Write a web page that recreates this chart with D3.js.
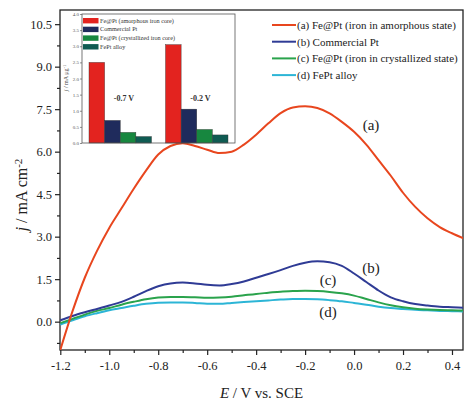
<!DOCTYPE html>
<html>
<head>
<meta charset="utf-8">
<script src="https://d3js.org/d3.v7.min.js"></script>
<style>
body { margin: 0; background: #fff; }
text { font-family: "Liberation Serif", serif; }
</style>
</head>
<body>
<script>
// canvas magic numbers
var w = 465;
var h = 406;
// main plot box
var left = 60, top_ = 10, right = 463, bottom = 350;
// inset box
var insLeft = 82, insTop = 14, insRight = 235, insBottom = 143;

// ---- data ----
var potential = [-1.20, -1.15, -1.10, -1.05, -1.00, -0.95, -0.90, -0.85, -0.80, -0.75,
                 -0.70, -0.65, -0.60, -0.55, -0.50, -0.45, -0.40, -0.35, -0.30, -0.25,
                 -0.20, -0.15, -0.10, -0.05, 0.00, 0.05, 0.10, 0.15, 0.20, 0.25,
                 0.30, 0.35, 0.40, 0.45];
var curveA = [-1.0, 0.37, 1.55, 2.5, 3.31, 4.0, 4.69, 5.33, 5.9, 6.2,
              6.3, 6.2, 6.07, 5.95, 6.0, 6.25, 6.6, 7.0, 7.36, 7.56,
              7.6, 7.54, 7.35, 7.05, 6.7, 6.25, 5.7, 5.15, 4.55, 4.05,
              3.65, 3.34, 3.12, 2.93];
var curveB = [0.05, 0.2, 0.33, 0.45, 0.57, 0.7, 0.88, 1.08, 1.25, 1.35,
              1.38, 1.35, 1.3, 1.28, 1.33, 1.42, 1.55, 1.68, 1.82, 1.97,
              2.08, 2.13, 2.1, 1.97, 1.7, 1.4, 1.1, 0.86, 0.72, 0.62,
              0.57, 0.53, 0.51, 0.49];
var curveC = [-0.05, 0.1, 0.25, 0.38, 0.48, 0.6, 0.7, 0.79, 0.85, 0.87,
              0.87, 0.86, 0.84, 0.85, 0.88, 0.93, 0.98, 1.02, 1.06, 1.08,
              1.09, 1.08, 1.05, 1.0, 0.92, 0.8, 0.68, 0.58, 0.51, 0.46,
              0.43, 0.41, 0.40, 0.39];
var curveD = [-0.1, 0.05, 0.19, 0.3, 0.4, 0.48, 0.56, 0.63, 0.67, 0.68,
              0.68, 0.66, 0.63, 0.63, 0.66, 0.69, 0.72, 0.75, 0.78, 0.8,
              0.8, 0.79, 0.76, 0.72, 0.66, 0.6, 0.53, 0.48, 0.45, 0.42,
              0.40, 0.38, 0.37, 0.36];
var seriesNames = ["(a) Fe@Pt (iron in amorphous state)", "(b) Commercial Pt",
                   "(c) Fe@Pt (iron in crystallized state)", "(d) FePt alloy"];
var seriesTags = ["(a)", "(b)", "(c)", "(d)"];
var xTicks = [-1.2, -1.0, -0.8, -0.6, -0.4, -0.2, 0.0, 0.2, 0.4];
var yTicks = [0.0, 1.5, 3.0, 4.5, 6.0, 7.5, 9.0, 10.5];

// inset bar data
var insetGroups = ["-0.7 V", "-0.2 V"];
var insetNames = ["Fe@Pt (amorphous iron core)", "Commercial Pt",
                  "Fe@Pt (crystallized iron core)", "FePt alloy"];
var insetAt07 = [2.5, 0.7, 0.33, 0.2];
var insetAt02 = [3.05, 1.05, 0.42, 0.25];
var insetTicks = [0.0, 0.5, 1.0, 1.5, 2.0, 2.5, 3.0, 3.5, 4.0];

var lineColors = ["#e8461e", "#2f3b95", "#2aa34c", "#2cb5d6"];
var barColors = ["#e3231f", "#1f2b5c", "#17873f", "#0f5b52"];

// hyphen instead of unicode minus, like the original
var fmt = function(d) { return d3.format(".1f")(d).replace("\u2212", "-"); };

var svg = d3.select("body")
            .append("svg")
            .attr("width", w)
            .attr("height", h);

// scales
var x = d3.scaleLinear().domain([-1.2, 0.445]).range([left + 0.3, right]);
var y = d3.scaleLinear().domain([-1, 11]).range([bottom, top_]);

// x axis
var xAxis = svg.append("g")
    .attr("transform", "translate(0," + bottom + ")")
    .call(d3.axisBottom(x).tickValues(xTicks).tickSize(5).tickFormat(fmt));
var xMinor = svg.append("g")
    .attr("transform", "translate(0," + bottom + ")")
    .call(d3.axisBottom(x).tickValues(d3.range(-1.1, 0.44, 0.2)).tickSize(3).tickFormat(""));

// y axis
var yAxis = svg.append("g")
    .attr("transform", "translate(" + left + ",0)")
    .call(d3.axisLeft(y).tickValues(yTicks).tickSize(5).tickFormat(fmt));
var yMinor = svg.append("g")
    .attr("transform", "translate(" + left + ",0)")
    .call(d3.axisLeft(y).tickValues([-0.75, 0.75, 2.25, 3.75, 5.25, 6.75, 8.25, 9.75]).tickSize(3).tickFormat(""));

// axisBottom/axisLeft set a font-family on the group, drop it
[xAxis, xMinor, yAxis, yMinor].forEach(function(g) {
    g.attr("font-family", null);
    g.select(".domain").remove();
    g.selectAll("line").attr("stroke", "#222").attr("stroke-width", 1.2);
    g.selectAll("text").attr("fill", "#222").style("font-size", "12.5px");
});
xAxis.selectAll("text").attr("dy", "0.95em");

// frame
svg.append("rect")
    .attr("x", left).attr("y", top_)
    .attr("width", right - left).attr("height", bottom - top_)
    .attr("fill", "none").attr("stroke", "#222").attr("stroke-width", 1.3);

// axis titles
var xt = svg.append("text")
    .attr("x", (left + right) / 2).attr("y", 398)
    .attr("text-anchor", "middle")
    .style("font-size", "15px").attr("fill", "#222");
xt.append("tspan").style("font-style", "italic").text("E");
xt.append("tspan").text(" / V vs. SCE");

var yt = svg.append("text")
    .attr("transform", "translate(27,195) rotate(-90)")
    .attr("text-anchor", "middle")
    .style("font-size", "16px").attr("fill", "#222");
yt.append("tspan").style("font-style", "italic").text("j");
yt.append("tspan").text(" / mA cm");
yt.append("tspan").attr("dy", "-0.5em").style("font-size", "11px").text("-2");

// curves
var allCurves = [curveA, curveB, curveC, curveD];
var line = d3.line()
    .x(function(d, i) { return x(potential[i]); })
    .y(function(d) { return y(d); })
    .curve(d3.curveMonotoneX);

svg.append("clipPath").attr("id", "plotclip")
    .append("rect").attr("x", left).attr("y", top_)
    .attr("width", right - left).attr("height", bottom - top_);

// draw d first so a sits on top
svg.append("g").attr("clip-path", "url(#plotclip)")
    .selectAll("path")
    .data(allCurves.slice().reverse())
    .enter()
    .append("path")
    .attr("d", line)
    .attr("fill", "none")
    .attr("stroke", function(d, i) { return lineColors[3 - i]; })
    .attr("stroke-width", 2);

// curve tags
var tagPos = [[371, 130], [371, 273], [328, 285], [328, 317]];
svg.selectAll("text.tag")
    .data(seriesTags)
    .enter()
    .append("text")
    .attr("class", "tag")
    .attr("x", function(d, i) { return tagPos[i][0]; })
    .attr("y", function(d, i) { return tagPos[i][1]; })
    .attr("text-anchor", "middle")
    .style("font-size", "15px").attr("fill", "#222")
    .text(function(d) { return d; });

// main legend
var leg = svg.selectAll("g.leg")
    .data(seriesNames)
    .enter()
    .append("g")
    .attr("class", "leg")
    .attr("transform", function(d, i) { return "translate(272," + (25 + i * 16.7) + ")"; });
leg.append("line")
    .attr("x1", 0).attr("x2", 24)
    .attr("stroke", function(d, i) { return lineColors[i]; })
    .attr("stroke-width", 2);
leg.append("text")
    .attr("x", 25).attr("y", 4)
    .style("font-size", "11px").attr("fill", "#222")
    .text(function(d) { return d; });

// ---- inset bar chart ----
var xg = d3.scaleBand().domain(insetGroups).range([insLeft, insRight])
    .paddingInner(0.183).paddingOuter(0.0915);
var xs = d3.scaleBand().domain(d3.range(4)).range([0, xg.bandwidth()]);
var yi = d3.scaleLinear().domain([0, 4]).range([insBottom, insTop]);

svg.append("rect")
    .attr("x", insLeft).attr("y", insTop)
    .attr("width", insRight - insLeft).attr("height", insBottom - insTop)
    .attr("fill", "#fff");

var groupVals = [insetAt07, insetAt02];
var bars = svg.selectAll("g.bargroup")
    .data(groupVals)
    .enter()
    .append("g")
    .attr("class", "bargroup")
    .attr("transform", function(d, i) { return "translate(" + xg(insetGroups[i]) + ",0)"; });
bars.selectAll("rect")
    .data(function(d) { return d; })
    .enter()
    .append("rect")
    .attr("x", function(d, i) { return xs(i); })
    .attr("y", function(d) { return yi(d); })
    .attr("width", xs.bandwidth())
    .attr("height", function(d) { return yi(0) - yi(d); })
    .attr("fill", function(d, i) { return barColors[i]; })
    .attr("stroke", "#333")
    .attr("stroke-width", 0.4);

// potential labels in inset
svg.selectAll("text.glab")
    .data(insetGroups)
    .enter()
    .append("text")
    .attr("class", "glab")
    .attr("x", function(d) { return xg(d) + xg.bandwidth() * 0.56; })
    .attr("y", 101)
    .attr("text-anchor", "middle")
    .style("font-size", "8px").style("font-weight", "bold").attr("fill", "#333")
    .text(function(d) { return d; });

// inset axis
var insAxis = svg.append("g")
    .attr("transform", "translate(" + insLeft + ",0)")
    .call(d3.axisLeft(yi).tickValues(insetTicks).tickSize(2).tickPadding(1).tickFormat(d3.format(".1f")));
insAxis.attr("font-family", null);
insAxis.select(".domain").remove();
insAxis.selectAll("line").attr("stroke", "#444").attr("stroke-width", 0.6);
insAxis.selectAll("text").style("font-size", "5px").attr("fill", "#555");

svg.append("rect")
    .attr("x", insLeft).attr("y", insTop)
    .attr("width", insRight - insLeft).attr("height", insBottom - insTop)
    .attr("fill", "none").attr("stroke", "#555").attr("stroke-width", 0.8);

var iyt = svg.append("text")
    .attr("transform", "translate(68,78) rotate(-90)")
    .attr("text-anchor", "middle")
    .style("font-size", "6px").attr("fill", "#444");
iyt.append("tspan").style("font-style", "italic").text("j");
iyt.append("tspan").text(" / mA μg");
iyt.append("tspan").attr("dy", "-0.5em").style("font-size", "4.5px").text("-1");

// inset legend
var ileg = svg.selectAll("g.ileg")
    .data(insetNames)
    .enter()
    .append("g")
    .attr("class", "ileg")
    .attr("transform", function(d, i) { return "translate(83," + (20.7 + i * 8.7) + ")"; });
ileg.append("rect")
    .attr("x", 0).attr("y", -2.7)
    .attr("width", 15.5).attr("height", 5.4)
    .attr("fill", function(d, i) { return barColors[i]; });
ileg.append("text")
    .attr("x", 17).attr("y", 2)
    .style("font-size", "6.2px").attr("fill", "#333")
    .text(function(d) { return d; });
</script>
</body>
</html>
